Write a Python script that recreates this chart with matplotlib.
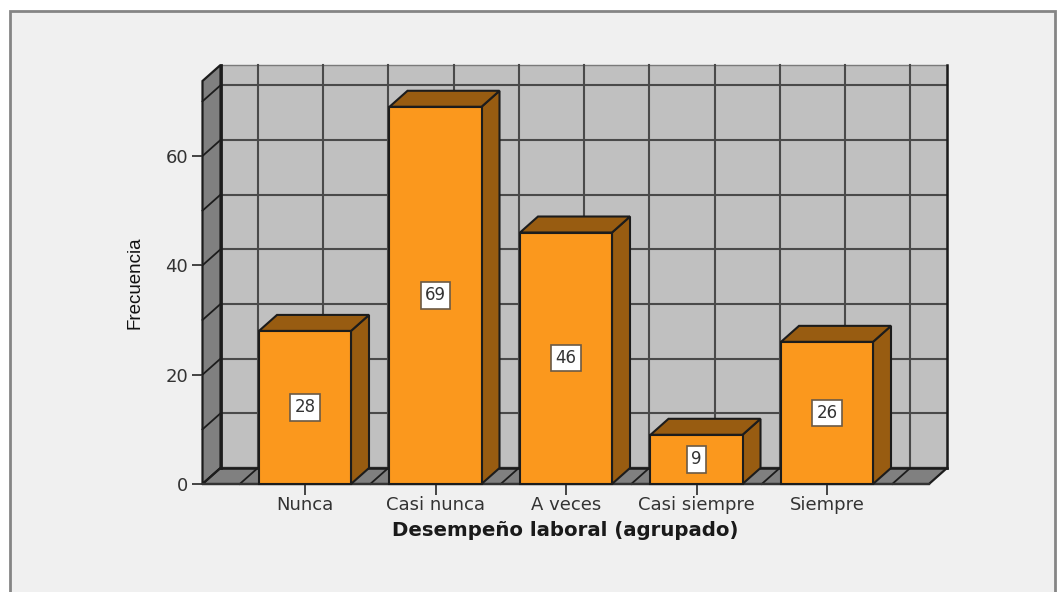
import matplotlib
matplotlib.use('Agg')
import matplotlib.pyplot as plt
from matplotlib.patches import Polygon, Rectangle
import numpy as np

categorias = ['Nunca', 'Casi nunca', 'A veces', 'Casi siempre', 'Siempre']
frecuencias = [28, 69, 46, 9, 26]
y_ticks = [0, 20, 40, 60]
y_grid = [0, 10, 20, 30, 40, 50, 60, 70]

W, H = 1057, 592
# pixeles del plano frontal
x0_px, x1_px, y0_px, y1_px = 202.5, 929, 484, 81
px_x = 130.5      # px por categoria
px_y = 5.467      # px por unidad
ancho = 0.705

fig = plt.figure(figsize=(W/100, H/100), dpi=100, facecolor='white')
fig.patches.append(Rectangle((10/W, -0.01), (1054.5-10)/W, 1.01-10.5/H, transform=fig.transFigure,
                             fc='#f0f0f0', ec='#858585', lw=2, zorder=-1))

ax = fig.add_axes([x0_px/W, 1-y0_px/H, (x1_px-x0_px)/W, (y0_px-y1_px)/H])
xmin = (x0_px-305)/px_x
xmax = (x1_px-305)/px_x
ymax = (y0_px-y1_px)/px_y
ax.set_xlim(xmin, xmax)
ax.set_ylim(0, ymax)
ax.patch.set_visible(False)
for s in ax.spines.values():
    s.set_visible(False)

dx = 18/px_x
dy = 16/px_y
borde = '#1c1c1c'
linea = '#4a4a4a'

# paredes y piso
ax.add_patch(Polygon([(xmin+dx, dy), (xmax+dx, dy), (xmax+dx, ymax+dy), (xmin+dx, ymax+dy)],
                     fc='#c0c0c0', ec='#7a7a7a', lw=1, clip_on=False, zorder=1))
ax.add_patch(Polygon([(xmin, 0), (xmin+dx, dy), (xmin+dx, ymax+dy), (xmin, ymax)],
                     fc='#808080', ec=borde, lw=1.6, clip_on=False, zorder=1))
ax.add_patch(Polygon([(xmin, 0), (xmax, 0), (xmax+dx, dy), (xmin+dx, dy)],
                     fc='#808080', ec=borde, lw=1.6, clip_on=False, zorder=1))

# rejilla
for v in y_grid:
    ax.plot([xmin+dx, xmax+dx], [v+dy, v+dy], c=linea, lw=1.5, clip_on=False, zorder=2)
    ax.plot([xmin, xmin+dx], [v, v+dy], c=borde, lw=1.3, clip_on=False, zorder=2)
for g in np.arange(-0.5, 5, 0.5):
    ax.plot([g+dx, g+dx], [dy, ymax+dy], c=linea, lw=1.5, clip_on=False, zorder=2)
    ax.plot([g, g+dx], [0, dy], c=borde, lw=1.3, clip_on=False, zorder=2)
ax.plot([xmax+dx, xmax+dx], [dy, ymax+dy], c=borde, lw=1.8, clip_on=False, zorder=2)
ax.plot([xmin+dx, xmax+dx], [dy, dy], c=borde, lw=1.8, clip_on=False, zorder=2)
ax.plot([xmin+dx, xmin+dx], [dy, ymax+dy], c=borde, lw=2, clip_on=False, zorder=2)
ax.plot([xmin, xmax], [0, 0], c='#333333', lw=1.6, clip_on=False, zorder=2)

# barras
for i, v in enumerate(frecuencias):
    l, r = i-ancho/2, i+ancho/2
    ax.add_patch(Polygon([(r, 0), (r+dx, dy), (r+dx, v+dy), (r, v)],
                         fc='#985c11', ec=borde, lw=1.5, clip_on=False, zorder=3+i))
    ax.add_patch(Polygon([(l, v), (r, v), (r+dx, v+dy), (l+dx, v+dy)],
                         fc='#985c11', ec=borde, lw=1.5, clip_on=False, zorder=3+i))
    ax.add_patch(Rectangle((l, 0), ancho, v, fc='#fb981d', ec=borde, lw=1.5, clip_on=False, zorder=3+i))
    ax.text(i, v/2, str(v), ha='center', va='center', fontsize=12, color='#333333',
            family='DejaVu Sans', zorder=20,
            bbox=dict(boxstyle='square,pad=0.25', fc='white', ec='#6b5a45', lw=1.2))

ax.set_yticks(y_ticks)
ax.set_xticks(range(len(categorias)))
ax.set_xticklabels(categorias)
ax.tick_params(axis='both', length=8, width=1.4, color='#444444', labelcolor='#333333', labelsize=13, pad=2.5)
ax.tick_params(axis='x', pad=0.5)

fig.text(565/W, 1-531/H, 'Desempeño laboral (agrupado)', ha='center', va='center', fontsize=14.2,
         fontweight='bold', color='#1a1a1a', family='DejaVu Sans')
fig.text(135/W, 1-283/H, 'Frecuencia', ha='center', va='center', rotation=90, fontsize=13.5,
         color='#111111', family='Liberation Sans')

fig.savefig('out.png', dpi=100, facecolor=fig.get_facecolor())
